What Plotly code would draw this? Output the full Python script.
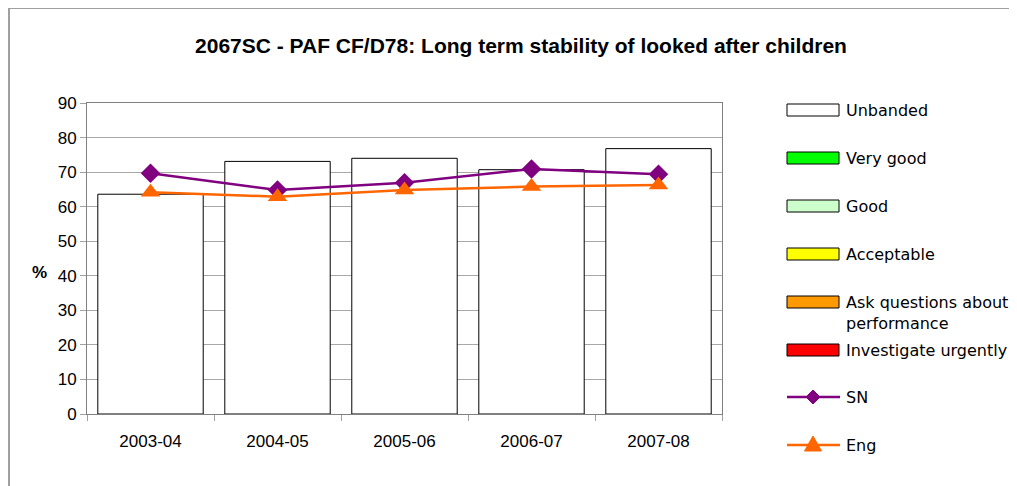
import plotly.graph_objects as go

# Data
years = ['2003-04', '2004-05', '2005-06', '2006-07', '2007-08']
unbanded = [63.6, 73.1, 74.0, 70.7, 76.8]
sn = [69.7, 64.8, 66.9, 70.9, 69.4]
eng = [64.2, 62.9, 64.8, 65.8, 66.3]

band_names = ['Unbanded', 'Very good', 'Good', 'Acceptable',
              'Ask questions about<br>performance', 'Investigate urgently']
band_colors = ['#FFFFFF', '#00FF00', '#CCFFCC', '#FFFF00', '#FF9900', '#FF0000']
line_names = ['SN', 'Eng']
line_colors = ['#800080', '#FF6600']
line_symbols = ['diamond', 'triangle-up']

# page body has an 8px margin, so the figure is a bit smaller than the window
OFF = 8
W, H = 1017 - OFF, 486 - OFF
L, R, T, B = 87 - OFF, 722 - OFF, 103 - OFF, 414 - OFF


def px(x):
    # x in window pixels -> paper
    return (x - OFF - L) / (R - L)


def py(y):
    return (B - (y - OFF)) / (B - T)


fig = go.Figure()

fig.add_trace(go.Bar(x=years, y=unbanded, name='Unbanded', width=0.83,
                     marker=dict(color='white', line=dict(color='black', width=1)),
                     showlegend=False))
for name, vals, col, sym, sz in zip(line_names, [sn, eng], line_colors, line_symbols, [15, 17]):
    fig.add_trace(go.Scatter(x=years, y=vals, name=name, mode='lines+markers',
                             line=dict(color=col, width=2.5),
                             marker=dict(symbol=sym, size=sz, color=col),
                             showlegend=False))

shapes = []
annotations = []

# outer chart frame
shapes.append(dict(type='rect', xref='paper', yref='paper',
                   x0=px(9), x1=px(1040), y0=py(520), y1=py(8),
                   line=dict(color='#A0A0A0', width=2), fillcolor='rgba(0,0,0,0)'))

# hand-drawn legend to match the wide swatches
legend_y = [110, 158, 206, 254, 302, 350]
for name, col, yy in zip(band_names, band_colors, legend_y):
    shapes.append(dict(type='rect', xref='paper', yref='paper',
                       x0=px(787), x1=px(839), y0=py(yy + 6), y1=py(yy - 6),
                       line=dict(color='black', width=1), fillcolor=col))
    annotations.append(dict(x=px(844), y=py(yy + (11 if '<br>' in name else 0)),
                            xref='paper', yref='paper', text=name, showarrow=False,
                            xanchor='left', yanchor='middle', align='left',
                            font=dict(family='DejaVu Sans', size=16, color='black')))

for name, col, sym, yy in zip(line_names, line_colors, line_symbols, [397, 445]):
    shapes.append(dict(type='line', xref='paper', yref='paper',
                       x0=px(787), x1=px(840), y0=py(yy), y1=py(yy),
                       line=dict(color=col, width=2.5)))
    if sym == 'diamond':
        path = 'M {} {} L {} {} L {} {} L {} {} Z'.format(
            px(813), py(yy - 7), px(820), py(yy), px(813), py(yy + 7), px(806), py(yy))
    else:
        path = 'M {} {} L {} {} L {} {} Z'.format(
            px(813), py(yy - 9), px(821.5), py(yy + 6), px(804.5), py(yy + 6))
    shapes.append(dict(type='path', xref='paper', yref='paper', path=path,
                       fillcolor=col, line=dict(color=col, width=1)))
    annotations.append(dict(x=px(844), y=py(yy), xref='paper', yref='paper',
                            text=name, showarrow=False, xanchor='left', yanchor='middle',
                            font=dict(family='DejaVu Sans', size=16, color='black')))

annotations.append(dict(x=px(30), y=py(272), xref='paper', yref='paper', text='<b>%</b>',
                        showarrow=False, font=dict(family='Liberation Sans, Arial', size=17,
                                                   color='black')))

fig.update_layout(
    width=W, height=H,
    margin=dict(l=L, r=W - R, t=T, b=H - B, autoexpand=False),
    paper_bgcolor='white', plot_bgcolor='white',
    title=dict(text='<b>2067SC - PAF CF/D78: Long term stability of looked after children</b>',
               x=(521 - OFF) / W, xanchor='center', y=1 - (46 - OFF) / H, yanchor='middle',
               font=dict(family='Liberation Sans, Arial', size=21, color='black')),
    font=dict(family='Liberation Sans, Arial', size=17, color='black'),
    xaxis=dict(type='category', showline=True, linecolor='#808080', mirror=True,
               ticks='outside', tickson='boundaries', ticklen=6, tickcolor='#A0A0A0',
               showgrid=False, ticklabelstandoff=12),
    yaxis=dict(range=[0, 90], dtick=10, showline=True, linecolor='#808080', mirror=True,
               ticks='outside', ticklen=6, tickcolor='#A0A0A0',
               gridcolor='#A8A8A8', gridwidth=1, zeroline=False),
    shapes=shapes, annotations=annotations,
)

fig.write_html('out.html')
